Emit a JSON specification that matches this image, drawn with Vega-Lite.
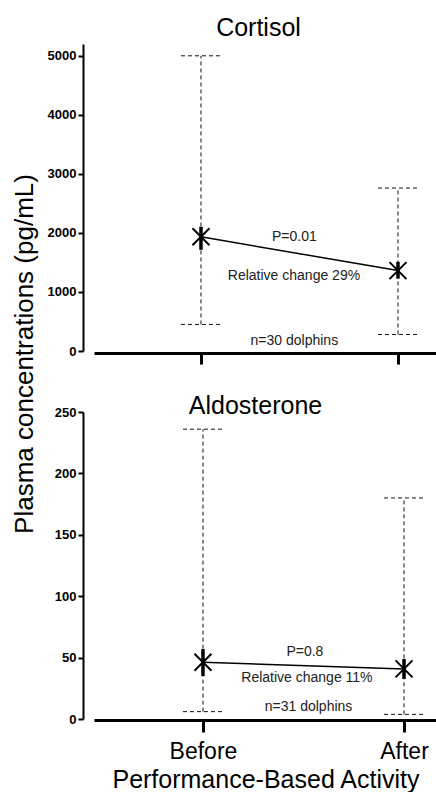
{
  "$schema": "https://vega.github.io/schema/vega-lite/v6.json",
  "padding": {"left": 11, "top": 16, "right": 0, "bottom": 0},
  "bounds": "flush",
  "spacing": 61,
  "background": "white",
  "config": {
    "view": {"stroke": null},
    "font": "Liberation Sans",
    "axis": {
      "grid": false,
      "domainColor": "black",
      "tickColor": "black",
      "labelColor": "black",
      "titleColor": "black",
      "labelFont": "Liberation Sans",
      "titleFont": "Liberation Sans"
    },
    "title": {"font": "Liberation Sans", "color": "black", "fontWeight": "normal"}
  },
  "vconcat": [
    {
      "width": 343,
      "height": 307,
      "title": {"text": "Cortisol", "fontSize": 25, "offset": -17, "dx": -7, "baseline": "alphabetic"},
      "layer": [
        {
          "data": {"values": [
            {"phase": 0, "label": "Before", "mean": 1934, "low": 450, "high": 5000, "inLow": 1714, "inHigh": 2104},
            {"phase": 1, "label": "After", "mean": 1362, "low": 280, "high": 2760, "inLow": 1226, "inHigh": 1510}
          ]},
          "encoding": {
            "x": {"field": "phase", "type": "quantitative",
              "scale": {"domain": [-0.543, 1.198], "nice": false},
              "axis": {"values": [0, 1], "labels": false, "title": null, "tickSize": 11, "tickWidth": 3, "domainWidth": 3, "offset": 2}},
            "y": {"type": "quantitative"}
          },
          "layer": [
            {
              "mark": {"type": "rule", "strokeDash": [4, 3], "strokeWidth": 1, "color": "#111"},
              "encoding": {
                "y": {"field": "low", "type": "quantitative",
                  "scale": {"domain": [0, 5200], "nice": false},
                  "axis": {"values": [0, 1000, 2000, 3000, 4000, 5000], "format": "d", "offset": 11, "labelFontSize": 13, "labelFontWeight": "bold", "tickSize": 5, "tickWidth": 2, "domainWidth": 2, "labelPadding": 2,
                    "title": "Plasma concentrations (pg/mL)", "titleFontSize": 26, "titleFontWeight": "normal", "titleX": -51, "titleY": 309.5, "titleBaseline": "alphabetic", "titleAngle": 270}},
                "y2": {"field": "high"}
              }
            },
            {
              "mark": {"type": "rule", "strokeDash": [4, 3], "strokeWidth": 1, "color": "#111", "xOffset": -20, "x2Offset": 20},
              "encoding": {"x2": {"field": "phase"}, "y": {"field": "high", "type": "quantitative"}}
            },
            {
              "mark": {"type": "rule", "strokeDash": [4, 3], "strokeWidth": 1, "color": "#111", "xOffset": -20, "x2Offset": 20},
              "encoding": {"x2": {"field": "phase"}, "y": {"field": "low", "type": "quantitative"}}
            },
            {
              "mark": {"type": "rule", "strokeWidth": 3.5, "color": "black"},
              "encoding": {"y": {"field": "inLow", "type": "quantitative"}, "y2": {"field": "inHigh"}}
            },
            {
              "mark": {"type": "line", "strokeWidth": 1.5, "color": "black"},
              "encoding": {"y": {"field": "mean", "type": "quantitative"}}
            },
            {
              "mark": {"type": "point", "shape": "M-1,-1L1,1M-1,1L1,-1", "size": 289, "strokeWidth": 2, "color": "black", "opacity": 1},
              "encoding": {"y": {"field": "mean", "type": "quantitative"}}
            }
          ]
        },
        {
          "data": {"values": [
            {"x": 0.474, "y": 1935, "text": "P=0.01"},
            {"x": 0.472, "y": 1272, "text": "Relative change 29%"},
            {"x": 0.474, "y": 170, "text": "n=30 dolphins"}
          ]},
          "mark": {"type": "text", "fontSize": 14, "color": "#222", "baseline": "middle", "align": "center"},
          "encoding": {
            "x": {"field": "x", "type": "quantitative"},
            "y": {"field": "y", "type": "quantitative"},
            "text": {"field": "text"}
          }
        }
      ]
    },
    {
      "width": 343,
      "height": 307,
      "title": {"text": "Aldosterone", "fontSize": 25, "offset": -33, "dx": -10, "baseline": "alphabetic"},
      "layer": [
        {
          "data": {"values": [
            {"phase": 0, "label": "Before", "mean": 46.2, "low": 6, "high": 236, "inLow": 35, "inHigh": 57},
            {"phase": 1, "label": "After", "mean": 40.8, "low": 3.8, "high": 180, "inLow": 32.6, "inHigh": 48.9}
          ]},
          "encoding": {
            "x": {"field": "phase", "type": "quantitative",
              "scale": {"domain": [-0.542, 1.164], "nice": false},
              "axis": {"values": [0, 1], "labelExpr": "datum.value == 0 ? 'Before' : 'After'", "labelFontSize": 23, "labelPadding": 8,
                "title": "Performance-Based Activity", "titleFontSize": 25, "titleFontWeight": "normal", "titlePadding": 4,
                "tickSize": 12, "tickWidth": 3, "domainWidth": 3, "offset": 1}},
            "y": {"type": "quantitative"}
          },
          "layer": [
            {
              "mark": {"type": "rule", "strokeDash": [4, 3], "strokeWidth": 1, "color": "#111"},
              "encoding": {
                "y": {"field": "low", "type": "quantitative",
                  "scale": {"domain": [0, 250], "nice": false},
                  "axis": {"values": [0, 50, 100, 150, 200, 250], "format": "d", "offset": 11, "labelFontSize": 13, "labelFontWeight": "bold", "tickSize": 5, "tickWidth": 2, "domainWidth": 2, "labelPadding": 2, "title": null}},
                "y2": {"field": "high"}
              }
            },
            {
              "mark": {"type": "rule", "strokeDash": [4, 3], "strokeWidth": 1, "color": "#111", "xOffset": -20, "x2Offset": 20},
              "encoding": {"x2": {"field": "phase"}, "y": {"field": "high", "type": "quantitative"}}
            },
            {
              "mark": {"type": "rule", "strokeDash": [4, 3], "strokeWidth": 1, "color": "#111", "xOffset": -20, "x2Offset": 20},
              "encoding": {"x2": {"field": "phase"}, "y": {"field": "low", "type": "quantitative"}}
            },
            {
              "mark": {"type": "rule", "strokeWidth": 3.5, "color": "black"},
              "encoding": {"y": {"field": "inLow", "type": "quantitative"}, "y2": {"field": "inHigh"}}
            },
            {
              "mark": {"type": "line", "strokeWidth": 1.5, "color": "black"},
              "encoding": {"y": {"field": "mean", "type": "quantitative"}}
            },
            {
              "mark": {"type": "point", "shape": "M-1,-1L1,1M-1,1L1,-1", "size": 289, "strokeWidth": 2, "color": "black", "opacity": 1},
              "encoding": {"y": {"field": "mean", "type": "quantitative"}}
            }
          ]
        },
        {
          "data": {"values": [
            {"x": 0.507, "y": 54.2, "text": "P=0.8"},
            {"x": 0.517, "y": 33.4, "text": "Relative change 11%"},
            {"x": 0.525, "y": 9.8, "text": "n=31 dolphins"}
          ]},
          "mark": {"type": "text", "fontSize": 14, "color": "#222", "baseline": "middle", "align": "center"},
          "encoding": {
            "x": {"field": "x", "type": "quantitative"},
            "y": {"field": "y", "type": "quantitative"},
            "text": {"field": "text"}
          }
        }
      ]
    }
  ]
}
